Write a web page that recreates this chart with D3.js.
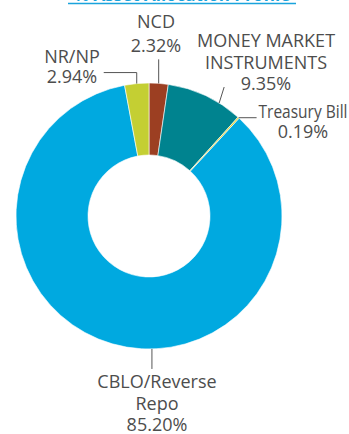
<!DOCTYPE html>
<html>
<head>
<meta charset="utf-8">
<script src="https://cdn.jsdelivr.net/npm/d3@7"></script>
<style>
  body { margin: 0; background: #fff; }
  svg text { font-family: "Open Sans", sans-serif; fill: #4d4d4d; }
</style>
</head>
<body>
<div id="chart"></div>
<script>
// slices, clockwise from 12 o'clock
var categories = ['NCD', 'MONEY MARKET INSTRUMENTS', 'Treasury Bill', 'CBLO/Reverse Repo', 'NR/NP'];
var values = [2.32, 9.35, 0.19, 85.20, 2.94];
var colors = ['#9c3f22', '#00838f', '#e8d21f', '#00a9e0', '#c4cf33'];
// label text lines per slice
var labelLines = [
    ['NCD', '2.32%'],
    ['MONEY MARKET', 'INSTRUMENTS', '9.35%'],
    ['Treasury Bill', '0.19%'],
    ['CBLO/Reverse', 'Repo', '85.20%'],
    ['NR/NP', '2.94%']
];

var width = 349, height = 434;
var cx = 149, cy = 216;
var outerR = 133, innerR = 61;

var svg = d3.select('#chart').append('svg')
    .attr('width', width)
    .attr('height', height);

// title, cut by the top edge
svg.append('text')
    .attr('x', 182)
    .attr('y', 1)
    .attr('text-anchor', 'middle')
    .style('font-size', '17px')
    .style('font-weight', 'bold')
    .style('fill', '#1aa3dc')
    .text('% Asset Allocation Profile');
svg.append('line')
    .attr('x1', 68).attr('x2', 296)
    .attr('y1', 3.5).attr('y2', 3.5)
    .attr('stroke', '#1aa3dc')
    .attr('stroke-width', 1.5);

var pie = d3.pie().sort(null).value(function(d) { return d; });
var arc = d3.arc().innerRadius(innerR).outerRadius(outerR);
var arcs = pie(values);

var g = svg.append('g')
    .attr('transform', 'translate(' + cx + ',' + cy + ')');

g.selectAll('path')
    .data(arcs)
    .enter().append('path')
    .attr('d', arc)
    .attr('fill', function(d, i) { return colors[i]; })
    .attr('stroke', '#fff')
    .attr('stroke-width', 0.6);

// point at radius r, angle a (clockwise from 12 o'clock)
function at(a, r) {
    return [cx + r * Math.sin(a), cy - r * Math.cos(a)];
}
function mid(d) { return (d.startAngle + d.endAngle) / 2; }

var leader = svg.append('g')
    .attr('fill', 'none')
    .attr('stroke', '#555')
    .attr('stroke-width', 1);
var line = d3.line();

// NCD: straight up
var p = at(mid(arcs[0]), outerR);
leader.append('path').attr('d', line([p, [p[0], p[1] - 24]]));
// Money market: short tick off the rim
p = at(arcs[1].startAngle + 0.41, outerR);
leader.append('path').attr('d', line([p, [p[0] + 5, p[1] - 16]]));
// Treasury bill: horizontal to the right
p = at(mid(arcs[2]), outerR);
leader.append('path').attr('d', line([p, [p[0] + 18, p[1]]]));
// CBLO: straight down near the bottom of the ring
p = at(Math.PI - 0.022, outerR);
leader.append('path').attr('d', line([p, [p[0], p[1] + 20]]));
// NR/NP: up then left
p = at(mid(arcs[4]), outerR);
leader.append('path').attr('d', line([p, [p[0], p[1] - 11], [p[0] - 33, p[1] - 11]]));

// label anchor (centre x, first baseline) and line step
var labelPos = [
    [156, 28, 24], [266, 47, 21.5], [303, 118, 20], [157, 388, 21.5], [72, 63, 20]
];
labelLines.forEach(function(lines, i) {
    var t = svg.append('text')
        .attr('x', labelPos[i][0])
        .attr('y', labelPos[i][1])
        .attr('text-anchor', 'middle')
        .style('font-size', '18px');
    lines.forEach(function(s, j) {
        var ts = t.append('tspan')
            .attr('x', labelPos[i][0])
            .attr('dy', j === 0 ? 0 : labelPos[i][2])
            .text(s);
        // squeeze the one label that runs to the right edge
        if (s === 'Treasury Bill') {
            ts.attr('textLength', 89).attr('lengthAdjust', 'spacingAndGlyphs');
        }
    });
});
</script>
</body>
</html>
